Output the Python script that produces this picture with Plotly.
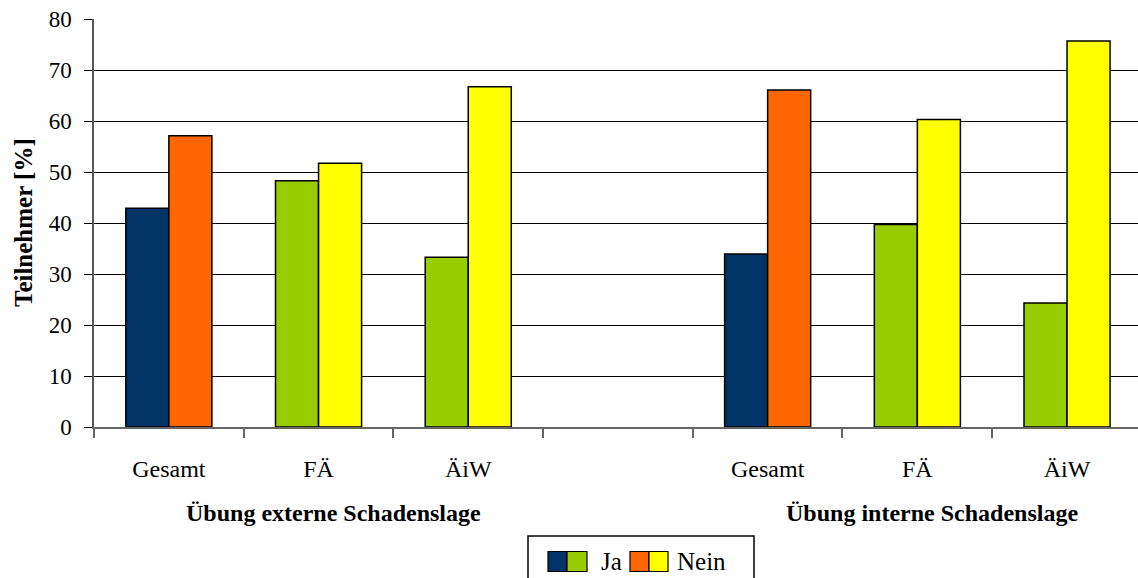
import plotly.graph_objects as go

# Categories: two exercise scenarios, each with Gesamt / FÄ / ÄiW, separated by an empty slot
categories = ["Gesamt", "FÄ", "ÄiW", "", "Gesamt", "FÄ", "ÄiW"]
positions = [0, 1, 2, 3, 4, 5, 6]
ja_values = [42.9, 48.3, 33.3, None, 33.9, 39.7, 24.3]
nein_values = [57.1, 51.7, 66.7, None, 66.1, 60.3, 75.7]
group_labels = ["Übung externe Schadenslage", "Übung interne Schadenslage"]
y_ticks = [0, 10, 20, 30, 40, 50, 60, 70, 80]

JA_TOTAL, JA_SUB = "#003366", "#99CC00"
NEIN_TOTAL, NEIN_SUB = "#FF6600", "#FFFF00"
ja_colors = [JA_TOTAL, JA_SUB, JA_SUB, JA_SUB, JA_TOTAL, JA_SUB, JA_SUB]
nein_colors = [NEIN_TOTAL, NEIN_SUB, NEIN_SUB, NEIN_SUB, NEIN_TOTAL, NEIN_SUB, NEIN_SUB]

FONT = "Liberation Serif"
W, H = 1138, 578
ML, MR, MT, MB = 94, 0, 19, 151
PW, PH = W - ML - MR, H - MT - MB


def px_x(px):
    return (px - ML) / PW


def px_y(py):
    return (H - MB - py) / PH


fig = go.Figure()
fig.add_trace(go.Bar(x=positions, y=ja_values, name="Ja",
                     marker=dict(color=ja_colors, line=dict(color="black", width=1.5)),
                     showlegend=False))
fig.add_trace(go.Bar(x=positions, y=nein_values, name="Nein",
                     marker=dict(color=nein_colors, line=dict(color="black", width=1.5)),
                     showlegend=False))

shapes = []
annotations = []

# group labels under the category labels
for gx, label in zip([1.1, 5.1], group_labels):
    annotations.append(dict(x=gx, xref="x", y=px_y(513), yref="paper", text="<b>%s</b>" % label,
                            showarrow=False, font=dict(family=FONT, size=24, color="black"),
                            xanchor="center", yanchor="middle"))

# y-axis title
annotations.append(dict(x=px_x(23), xref="paper", y=px_y(223), yref="paper", text="<b>Teilnehmer [%]</b>",
                        textangle=-90, showarrow=False, font=dict(family=FONT, size=25, color="black"),
                        xanchor="center", yanchor="middle"))

# legend box with two-colour swatches
shapes.append(dict(type="rect", xref="paper", yref="paper", x0=px_x(528), x1=px_x(754),
                   y0=px_y(580), y1=px_y(536), line=dict(color="black", width=1.5), fillcolor="white"))
for (x0, x1, c) in [(548, 567, JA_TOTAL), (567, 587, JA_SUB), (630, 649, NEIN_TOTAL), (649, 668, NEIN_SUB)]:
    shapes.append(dict(type="rect", xref="paper", yref="paper", x0=px_x(x0), x1=px_x(x1),
                       y0=px_y(571.5), y1=px_y(551.5), line=dict(color="black", width=1.2), fillcolor=c))
for (lx, txt) in [(601, "Ja"), (677, "Nein")]:
    annotations.append(dict(x=px_x(lx), xref="paper", y=px_y(561.5), yref="paper", text=txt,
                            showarrow=False, font=dict(family=FONT, size=25, color="black"),
                            xanchor="left", yanchor="middle", xshift=-2))

fig.update_layout(
    width=W, height=H,
    margin=dict(l=ML, r=MR, t=MT, b=MB, pad=0),
    paper_bgcolor="white", plot_bgcolor="white",
    barmode="group", bargap=0.425, bargroupgap=0,
    font=dict(family=FONT, size=23, color="black"),
    shapes=shapes, annotations=annotations,
    xaxis=dict(range=[-0.5, 6.474], tickmode="array", tickvals=[p for p, c in zip(positions, categories) if c],
               ticktext=[c for c in categories if c], ticks="", showgrid=False, zeroline=False,
               showline=True, linecolor="#666666", linewidth=1.5, ticklabelstandoff=19,
               minor=dict(tickmode="array", tickvals=[p + 0.5 for p in [-1] + positions],
                          ticks="outside", ticklen=9, tickcolor="#666666", tickwidth=1.5),
               tickfont=dict(family=FONT, size=24), fixedrange=True),
    yaxis=dict(range=[0, 80], tickmode="array", tickvals=y_ticks, ticks="outside", ticklen=8,
               tickcolor="black", tickwidth=1, showgrid=True, gridcolor="black", gridwidth=1,
               zeroline=False, showline=True, linecolor="#555555", linewidth=1.5,
               ticklabelstandoff=8, tickfont=dict(family=FONT, size=23), fixedrange=True),
)

fig.write_html("out.html")
